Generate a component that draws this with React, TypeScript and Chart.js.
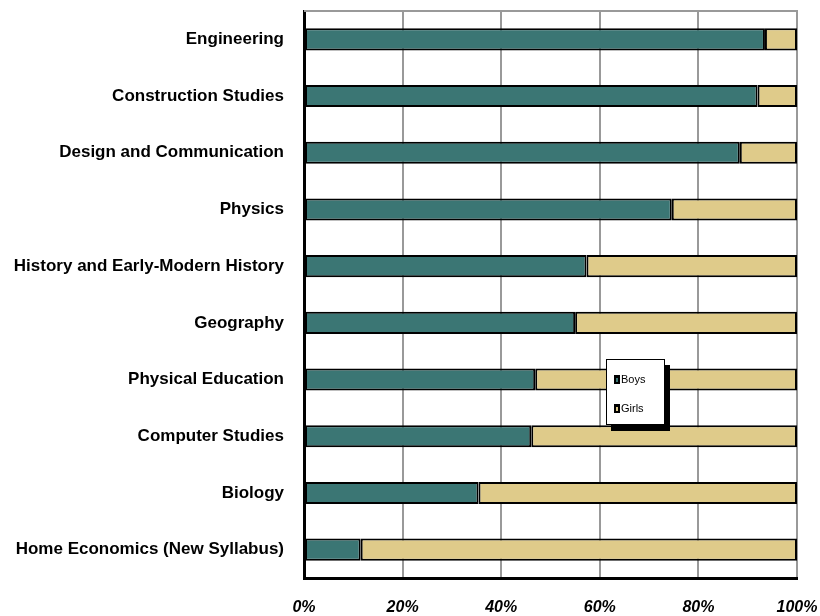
import { useEffect, useRef } from "react";
import { Chart, registerables } from "chart.js";

Chart.register(...registerables);

const categories = [
  "Engineering",
  "Construction Studies",
  "Design and Communication",
  "Physics",
  "History and Early-Modern History",
  "Geography",
  "Physical Education",
  "Computer Studies",
  "Biology",
  "Home Economics (New Syllabus)",
];
const boys = [93.5, 92.0, 88.4, 74.6, 57.3, 55.0, 46.9, 46.1, 35.4, 11.5];
const girls = [6.5, 8.0, 11.6, 25.4, 42.7, 45.0, 53.1, 53.9, 64.6, 88.5];
const seriesNames = ["Boys", "Girls"];
const xTickValues = [0, 20, 40, 60, 80, 100];

const TEAL = "#3B7674";
const TAN = "#DFCB8A";

const topBorder = {
  id: "topBorder",
  afterDatasetsDraw(chart: any) {
    const { ctx, chartArea } = chart;
    ctx.save();
    ctx.strokeStyle = "#999999";
    ctx.lineWidth = 2;
    ctx.beginPath();
    ctx.moveTo(chartArea.left, chartArea.top);
    ctx.lineTo(chartArea.right + 1, chartArea.top);
    ctx.stroke();
    ctx.restore();
  },
};

export default function App() {
  const ref = useRef<HTMLCanvasElement | null>(null);

  useEffect(() => {
    if (!ref.current) return;
    const chart = new Chart(ref.current, {
      type: "bar",
      data: {
        labels: categories,
        datasets: [
          {
            label: seriesNames[0],
            data: boys,
            backgroundColor: TEAL,
            borderColor: "#000000",
            borderWidth: 2,
            borderSkipped: false,
            categoryPercentage: 1,
            barPercentage: 0.39,
          },
          {
            label: seriesNames[1],
            data: girls,
            backgroundColor: TAN,
            borderColor: "#000000",
            borderWidth: 2,
            borderSkipped: false,
            categoryPercentage: 1,
            barPercentage: 0.39,
          },
        ],
      },
      options: {
        indexAxis: "y",
        responsive: false,
        animation: false,
        layout: { padding: { top: 11, right: 23, left: 0, bottom: 0 } },
        plugins: {
          legend: { display: false },
          tooltip: { enabled: false },
        },
        scales: {
          x: {
            stacked: true,
            min: 0,
            max: 100,
            afterBuildTicks: (scale: any) => {
              scale.ticks = xTickValues.map((v) => ({ value: v }));
            },
            afterFit: (scale: any) => {
              scale.height = 38;
              scale.paddingLeft = 0;
              scale.paddingRight = 0;
              scale.paddingTop = 0;
              scale.paddingBottom = 0;
            },
            ticks: {
              callback: (v: any) => v + "%",
              color: "#000000",
              padding: 20,
              maxRotation: 0,
              font: { family: "'Liberation Sans', Arial, sans-serif", size: 16, weight: "bold", style: "italic" },
            },
            grid: {
              color: "#999999",
              lineWidth: 2,
              drawTicks: false,
            },
            border: { color: "#000000", width: 3 },
          },
          y: {
            stacked: true,
            afterFit: (scale: any) => {
              scale.width = 304;
              scale.paddingLeft = 0;
              scale.paddingRight = 0;
              scale.paddingTop = 0;
              scale.paddingBottom = 0;
            },
            ticks: {
              color: "#000000",
              padding: 20,
              font: { family: "'Liberation Sans', Arial, sans-serif", size: 17, weight: "bold" },
            },
            grid: { display: false, drawTicks: false },
            border: { color: "#000000", width: 3 },
          },
        },
      },
      plugins: [topBorder],
    } as any);
    return () => chart.destroy();
  }, []);

  const marker = (color: string) => (
    <span
      style={{
        display: "inline-block",
        width: 6,
        height: 9,
        background: "#000",
        position: "relative",
        marginRight: 1,
        verticalAlign: "middle",
      }}
    >
      <span
        style={{
          position: "absolute",
          left: 2,
          top: 3,
          width: 2,
          height: 4,
          background: color,
        }}
      />
    </span>
  );

  return (
    <div style={{ position: "fixed", left: 0, top: 0, width: 820, height: 616, background: "#fff" }}>
      <canvas ref={ref} width={820} height={616} />
      <div
        style={{
          position: "absolute",
          left: 606,
          top: 359,
          width: 57,
          height: 64,
          background: "#fff",
          border: "1.5px solid #000",
          boxShadow: "5px 6px 0 #000",
          fontFamily: "'Liberation Sans', Arial, sans-serif",
          fontSize: 11,
          color: "#000",
        }}
      >
        <div style={{ position: "absolute", left: 7, top: 13, whiteSpace: "nowrap", lineHeight: "11px" }}>
          {marker(TEAL)}
          <span style={{ verticalAlign: "middle" }}>{seriesNames[0]}</span>
        </div>
        <div style={{ position: "absolute", left: 7, top: 42, whiteSpace: "nowrap", lineHeight: "11px" }}>
          {marker(TAN)}
          <span style={{ verticalAlign: "middle" }}>{seriesNames[1]}</span>
        </div>
      </div>
    </div>
  );
}
